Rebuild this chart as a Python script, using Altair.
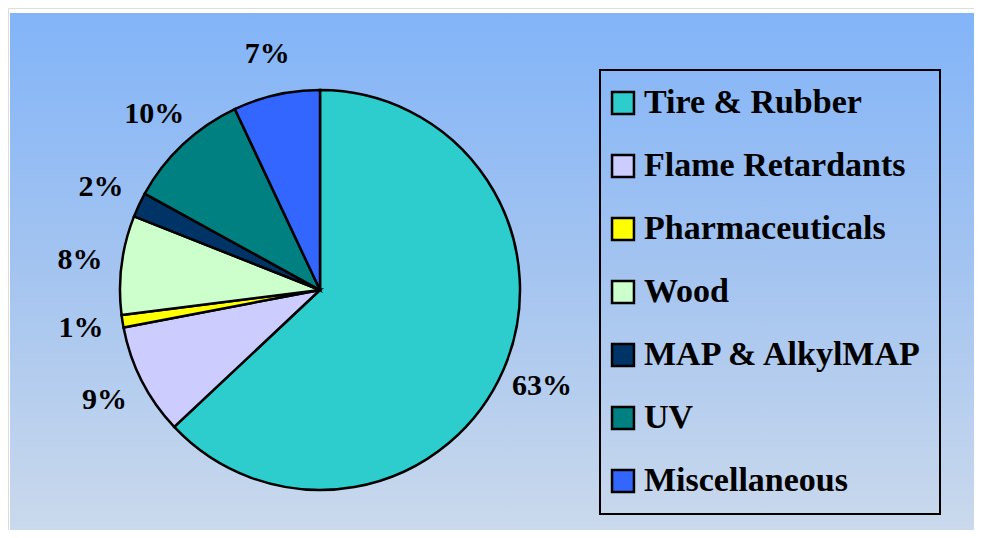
import altair as alt
import pandas as pd

categories = ["Tire & Rubber", "Flame Retardants", "Pharmaceuticals", "Wood",
              "MAP & AlkylMAP", "UV", "Miscellaneous"]
shares = [63, 9, 1, 8, 2, 10, 7]
colors = ["#2ECDCD", "#CCCCFF", "#FFFF00", "#CCFFCC", "#003366", "#008080", "#3366FF"]

df = pd.DataFrame({
    "category": categories,
    "share": shares,
    "idx": list(range(len(categories))),
    "label": [f"{s}%" for s in shares],
})

W, H = 966, 522
CX, CY, R = 312, 282, 200

bg = alt.Chart(pd.DataFrame({"d": [0]})).mark_rect(
    color=alt.Gradient(
        gradient="linear",
        stops=[alt.GradientStop(color="#82B4F8", offset=0),
               alt.GradientStop(color="#A4C4F0", offset=0.5),
               alt.GradientStop(color="#CAD9EC", offset=1)],
        x1=0, x2=0, y1=0, y2=1,
    )
).encode(x=alt.value(2), x2=alt.value(W), y=alt.value(5), y2=alt.value(H))

base = alt.Chart(df).encode(
    theta=alt.Theta("share:Q", stack=True),
    order=alt.Order("idx:Q"),
)

pie = base.mark_arc(outerRadius=R, stroke="black", strokeWidth=2.5).encode(
    x=alt.value(CX), y=alt.value(CY),
    color=alt.Color(
        "category:N",
        sort=categories,
        scale=alt.Scale(domain=categories, range=colors),
        legend=alt.Legend(
            title=None,
            orient="none",
            legendX=592, legendY=62,
            strokeColor="black",
            padding=16,
            symbolType="square",
            symbolSize=480,
            symbolStrokeColor="black",
            symbolStrokeWidth=2.5,
            symbolOpacity=1,
            symbolOffset=-10,
            labelFont="Liberation Serif",
            labelFontWeight="bold",
            labelFontSize=34,
            labelColor="black",
            labelOffset=4,
            labelLimit=400,
            rowPadding=29,
        ),
    ),
)

labels = base.mark_text(
    radius=242, font="Liberation Serif", fontWeight="bold", fontSize=30,
    color="black", align="center", baseline="middle",
).encode(x=alt.value(CX), y=alt.value(CY), text="label:N")

chart = alt.layer(bg, pie, labels).properties(
    width=W, height=H, padding=0,
    autosize=alt.AutoSizeParams(type="none"),
).configure_view(stroke=None).configure(background="white").configure_legend(strokeWidth=2)

chart.save("out.html", embed_options={"renderer": "svg", "actions": False})
